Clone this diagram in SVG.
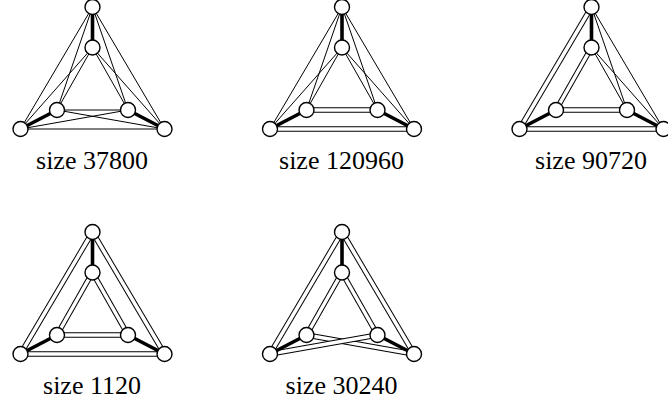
<svg xmlns="http://www.w3.org/2000/svg" width="668" height="411" viewBox="0 0 668 411">
<defs>
<style>
.s{stroke:#000;stroke-width:1;fill:none}
.db{stroke:#000;stroke-width:5.5;fill:none}
.dw{stroke:#fff;stroke-width:3.5;fill:none}
.k{stroke:#000;stroke-width:3.6;fill:none}
.n{fill:#fff;stroke:#000;stroke-width:1.4}
.lbl{font-family:"Liberation Serif","Times New Roman",serif;font-size:26px;fill:#000;text-anchor:middle}
</style>
</defs>
<rect width="668" height="411" fill="#fff"/>

<!-- Graph 1: size 37800 -->
<g id="graph1">
<g id="graph1-connectors">
<line class="s" x1="92.5" y1="7" x2="20.5" y2="129"/>
<line class="s" x1="92.5" y1="7" x2="57" y2="110"/>
<line class="s" x1="92.5" y1="47.5" x2="20.5" y2="129"/>
<line class="s" x1="92.5" y1="47.5" x2="57" y2="110"/>
<line class="s" x1="92.5" y1="7" x2="164.5" y2="129"/>
<line class="s" x1="92.5" y1="7" x2="128" y2="110"/>
<line class="s" x1="92.5" y1="47.5" x2="164.5" y2="129"/>
<line class="s" x1="92.5" y1="47.5" x2="128" y2="110"/>
<line class="s" x1="57" y1="110" x2="128" y2="110"/>
<line class="s" x1="20.5" y1="129" x2="164.5" y2="129"/>
<line class="s" x1="57" y1="110" x2="164.5" y2="129"/>
<line class="s" x1="20.5" y1="129" x2="128" y2="110"/>
<line class="k" x1="92.5" y1="7" x2="92.5" y2="47.5"/>
<line class="k" x1="57" y1="110" x2="20.5" y2="129"/>
<line class="k" x1="128" y1="110" x2="164.5" y2="129"/>
</g>
<g id="graph1-T"><circle class="n" cx="92.5" cy="7" r="7.5"/></g>
<g id="graph1-A"><circle class="n" cx="92.5" cy="47.5" r="7.5"/></g>
<g id="graph1-L"><circle class="n" cx="57" cy="110" r="7.5"/></g>
<g id="graph1-R"><circle class="n" cx="128" cy="110" r="7.5"/></g>
<g id="graph1-P"><circle class="n" cx="20.5" cy="129" r="7.5"/></g>
<g id="graph1-Q"><circle class="n" cx="164.5" cy="129" r="7.5"/></g>
<text class="lbl" x="92" y="169">size 37800</text>
</g>

<!-- Graph 2: size 120960 -->
<g id="graph2" transform="translate(249.5,0)">
<g id="graph2-connectors">
<line class="db" x1="57" y1="110" x2="128" y2="110"/>
<line class="dw" x1="57" y1="110" x2="128" y2="110"/>
<line class="db" x1="20.5" y1="129" x2="164.5" y2="129"/>
<line class="dw" x1="20.5" y1="129" x2="164.5" y2="129"/>
<line class="s" x1="92.5" y1="7" x2="20.5" y2="129"/>
<line class="s" x1="92.5" y1="7" x2="57" y2="110"/>
<line class="s" x1="92.5" y1="47.5" x2="20.5" y2="129"/>
<line class="s" x1="92.5" y1="47.5" x2="57" y2="110"/>
<line class="s" x1="92.5" y1="7" x2="164.5" y2="129"/>
<line class="s" x1="92.5" y1="7" x2="128" y2="110"/>
<line class="s" x1="92.5" y1="47.5" x2="164.5" y2="129"/>
<line class="s" x1="92.5" y1="47.5" x2="128" y2="110"/>
<line class="k" x1="92.5" y1="7" x2="92.5" y2="47.5"/>
<line class="k" x1="57" y1="110" x2="20.5" y2="129"/>
<line class="k" x1="128" y1="110" x2="164.5" y2="129"/>
</g>
<g id="graph2-T"><circle class="n" cx="92.5" cy="7" r="7.5"/></g>
<g id="graph2-A"><circle class="n" cx="92.5" cy="47.5" r="7.5"/></g>
<g id="graph2-L"><circle class="n" cx="57" cy="110" r="7.5"/></g>
<g id="graph2-R"><circle class="n" cx="128" cy="110" r="7.5"/></g>
<g id="graph2-P"><circle class="n" cx="20.5" cy="129" r="7.5"/></g>
<g id="graph2-Q"><circle class="n" cx="164.5" cy="129" r="7.5"/></g>
<text class="lbl" x="92" y="169">size 120960</text>
</g>

<!-- Graph 3: size 90720 -->
<g id="graph3" transform="translate(499,0)">
<g id="graph3-connectors">
<line class="db" x1="92.5" y1="7" x2="20.5" y2="129"/>
<line class="dw" x1="92.5" y1="7" x2="20.5" y2="129"/>
<line class="db" x1="92.5" y1="47.5" x2="57" y2="110"/>
<line class="dw" x1="92.5" y1="47.5" x2="57" y2="110"/>
<line class="db" x1="57" y1="110" x2="128" y2="110"/>
<line class="dw" x1="57" y1="110" x2="128" y2="110"/>
<line class="db" x1="20.5" y1="129" x2="164.5" y2="129"/>
<line class="dw" x1="20.5" y1="129" x2="164.5" y2="129"/>
<line class="s" x1="92.5" y1="7" x2="164.5" y2="129"/>
<line class="s" x1="92.5" y1="7" x2="128" y2="110"/>
<line class="s" x1="92.5" y1="47.5" x2="164.5" y2="129"/>
<line class="s" x1="92.5" y1="47.5" x2="128" y2="110"/>
<line class="k" x1="92.5" y1="7" x2="92.5" y2="47.5"/>
<line class="k" x1="57" y1="110" x2="20.5" y2="129"/>
<line class="k" x1="128" y1="110" x2="164.5" y2="129"/>
</g>
<g id="graph3-T"><circle class="n" cx="92.5" cy="7" r="7.5"/></g>
<g id="graph3-A"><circle class="n" cx="92.5" cy="47.5" r="7.5"/></g>
<g id="graph3-L"><circle class="n" cx="57" cy="110" r="7.5"/></g>
<g id="graph3-R"><circle class="n" cx="128" cy="110" r="7.5"/></g>
<g id="graph3-P"><circle class="n" cx="20.5" cy="129" r="7.5"/></g>
<g id="graph3-Q"><circle class="n" cx="164.5" cy="129" r="7.5"/></g>
<text class="lbl" x="92" y="169">size 90720</text>
</g>

<!-- Graph 4: size 1120 -->
<g id="graph4" transform="translate(0,225)">
<g id="graph4-connectors">
<line class="db" x1="92.5" y1="7" x2="20.5" y2="129"/>
<line class="dw" x1="92.5" y1="7" x2="20.5" y2="129"/>
<line class="db" x1="92.5" y1="7" x2="164.5" y2="129"/>
<line class="dw" x1="92.5" y1="7" x2="164.5" y2="129"/>
<line class="db" x1="92.5" y1="47.5" x2="57" y2="110"/>
<line class="dw" x1="92.5" y1="47.5" x2="57" y2="110"/>
<line class="db" x1="92.5" y1="47.5" x2="128" y2="110"/>
<line class="dw" x1="92.5" y1="47.5" x2="128" y2="110"/>
<line class="db" x1="57" y1="110" x2="128" y2="110"/>
<line class="dw" x1="57" y1="110" x2="128" y2="110"/>
<line class="db" x1="20.5" y1="129" x2="164.5" y2="129"/>
<line class="dw" x1="20.5" y1="129" x2="164.5" y2="129"/>
<line class="k" x1="92.5" y1="7" x2="92.5" y2="47.5"/>
<line class="k" x1="57" y1="110" x2="20.5" y2="129"/>
<line class="k" x1="128" y1="110" x2="164.5" y2="129"/>
</g>
<g id="graph4-T"><circle class="n" cx="92.5" cy="7" r="7.5"/></g>
<g id="graph4-A"><circle class="n" cx="92.5" cy="47.5" r="7.5"/></g>
<g id="graph4-L"><circle class="n" cx="57" cy="110" r="7.5"/></g>
<g id="graph4-R"><circle class="n" cx="128" cy="110" r="7.5"/></g>
<g id="graph4-P"><circle class="n" cx="20.5" cy="129" r="7.5"/></g>
<g id="graph4-Q"><circle class="n" cx="164.5" cy="129" r="7.5"/></g>
<text class="lbl" x="92" y="169">size 1120</text>
</g>

<!-- Graph 5: size 30240 -->
<g id="graph5" transform="translate(249.5,225)">
<g id="graph5-connectors">
<line class="db" x1="92.5" y1="7" x2="20.5" y2="129"/>
<line class="dw" x1="92.5" y1="7" x2="20.5" y2="129"/>
<line class="db" x1="92.5" y1="7" x2="164.5" y2="129"/>
<line class="dw" x1="92.5" y1="7" x2="164.5" y2="129"/>
<line class="db" x1="92.5" y1="47.5" x2="57" y2="110"/>
<line class="dw" x1="92.5" y1="47.5" x2="57" y2="110"/>
<line class="db" x1="92.5" y1="47.5" x2="128" y2="110"/>
<line class="dw" x1="92.5" y1="47.5" x2="128" y2="110"/>
<line class="db" x1="57" y1="110" x2="164.5" y2="129"/>
<line class="dw" x1="57" y1="110" x2="164.5" y2="129"/>
<line class="db" x1="20.5" y1="129" x2="128" y2="110"/>
<line class="dw" x1="20.5" y1="129" x2="128" y2="110"/>
<line class="k" x1="92.5" y1="7" x2="92.5" y2="47.5"/>
<line class="k" x1="57" y1="110" x2="20.5" y2="129"/>
<line class="k" x1="128" y1="110" x2="164.5" y2="129"/>
</g>
<g id="graph5-T"><circle class="n" cx="92.5" cy="7" r="7.5"/></g>
<g id="graph5-A"><circle class="n" cx="92.5" cy="47.5" r="7.5"/></g>
<g id="graph5-L"><circle class="n" cx="57" cy="110" r="7.5"/></g>
<g id="graph5-R"><circle class="n" cx="128" cy="110" r="7.5"/></g>
<g id="graph5-P"><circle class="n" cx="20.5" cy="129" r="7.5"/></g>
<g id="graph5-Q"><circle class="n" cx="164.5" cy="129" r="7.5"/></g>
<text class="lbl" x="92" y="169">size 30240</text>
</g>
</svg>
